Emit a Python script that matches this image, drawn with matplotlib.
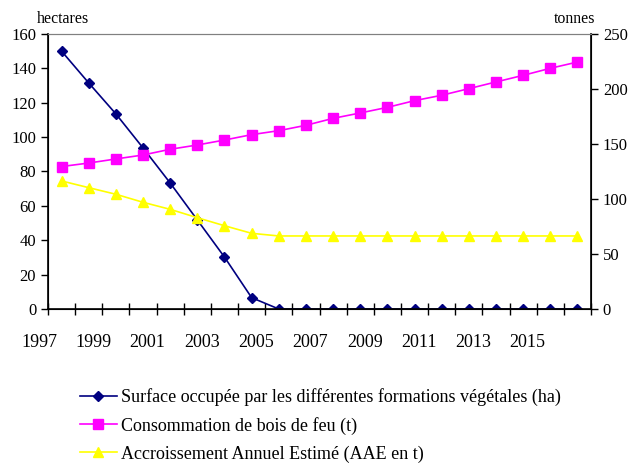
import matplotlib.pyplot as plt
import matplotlib.transforms as mtransforms
from matplotlib.ticker import MultipleLocator

plt.rcParams["font.family"] = ["Liberation Serif", "DejaVu Serif"]

# one point per year, drawn in the middle of each category slot
years = list(range(1997, 2017))
surface_ha = [150, 131.5, 113.5, 93.7, 73.3, 51.8, 30.2, 6.6,
              0, 0, 0, 0, 0, 0, 0, 0, 0, 0, 0, 0]
bois_feu_t = [129.5, 132.7, 136.4, 140, 145.2, 149.1, 153.6, 158.5, 162.1, 167,
              173.3, 178.2, 183.3, 189.4, 194.3, 200.3, 206.4, 212.4, 218.8, 224.5]
aae_t = [116.4, 110.3, 104.3, 97, 90.6, 83, 75.7, 68.8,
         66.4, 66.4, 66.4, 66.4, 66.4, 66.4, 66.4, 66.4, 66.4, 66.4, 66.4, 66.4]
tick_years = list(range(1997, 2017, 2))

x = [y + 0.5 for y in years]

fig = plt.figure(figsize=(6.31, 4.63), dpi=100)
ax = fig.add_axes([0.0761, 0.3326, 0.8605, 0.594])
ax2 = ax.twinx()

l1, = ax.plot(x, surface_ha, color="#000080", marker="D", markersize=5, lw=1.2,
              label="Surface occupée par les différentes formations végétales (ha)")
l2, = ax2.plot(x, bois_feu_t, color="#FF00FF", marker="s", markersize=7, lw=1.2,
               label="Consommation de bois de feu (t)")
l3, = ax2.plot(x, aae_t, color="#FFFF00", marker="^", markersize=7.5, lw=1.2,
               label="Accroissement Annuel Estimé (AAE en t)")

ax.set_xlim(1997, 2017)
ax.set_ylim(0, 160)
ax2.set_ylim(0, 250)
ax.set_yticks(range(0, 161, 20))
ax2.set_yticks(range(0, 251, 50))
ax.set_xticks(tick_years)
ax.xaxis.set_minor_locator(MultipleLocator(1))

ax.tick_params(axis="y", direction="out", length=5, labelsize=12, width=1)
ax2.tick_params(axis="y", direction="out", length=5, labelsize=12, width=1)
ax.tick_params(axis="x", which="both", direction="inout", length=8, labelsize=13, pad=14, width=1)

# year labels sit a little left of their tick in the original
shift = mtransforms.ScaledTranslation(-0.09, 0, fig.dpi_scale_trans)
for lbl in ax.get_xticklabels():
    lbl.set_transform(lbl.get_transform() + shift)

for a in (ax, ax2):
    a.spines["top"].set_color("#808080")
    a.spines["top"].set_linewidth(0.8)
ax.spines["left"].set_linewidth(1.2)
ax2.spines["right"].set_linewidth(1.2)
ax.spines["bottom"].set_linewidth(1.2)

fig.text(0.0586, 0.959, "hectares", fontsize=11.4, va="center")
fig.text(0.943, 0.959, "tonnes", fontsize=11.4, ha="right", va="center")

fig.legend(handles=[l1, l2, l3], loc="upper left", bbox_to_anchor=(0.1263, 0.162),
           frameon=False, fontsize=13, handlelength=2.05, handletextpad=0.22,
           labelspacing=0.6, borderpad=0, borderaxespad=0)

fig.savefig("out.png", dpi=100)
